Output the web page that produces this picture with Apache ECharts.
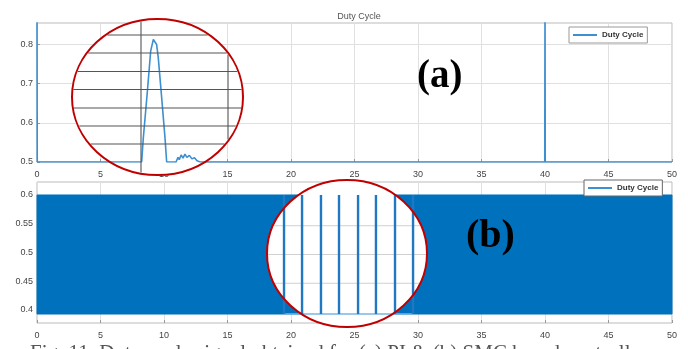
<!DOCTYPE html>
<html>
<head>
<meta charset="utf-8">
<script src="https://cdn.jsdelivr.net/npm/echarts@6/dist/echarts.min.js"></script>
<style>
  html, body { margin: 0; padding: 0; background: #ffffff; }
  #chart { width: 688px; height: 349px; }
</style>
</head>
<body>
<div id="chart"></div>
<script>
// (a) PI duty cycle: time (s) and duty value
const timeA = [0, 0.02, 8.24, 8.37, 8.69, 8.95, 9.16, 9.29, 9.42, 9.55, 9.82, 10.08, 10.21,
  10.95, 11.1, 11.2, 11.35, 11.5, 11.65, 11.8, 12.0, 12.2, 12.4, 12.6, 12.85,
  39.98, 40.0, 40.02, 50]
const dutyA = [0.9, 0.5, 0.5, 0.561, 0.68, 0.783, 0.813, 0.817, 0.8, 0.766, 0.663, 0.561, 0.5,
  0.5, 0.512, 0.506, 0.518, 0.51, 0.52, 0.512, 0.517, 0.508, 0.511, 0.503, 0.5,
  0.5, 0.9, 0.5, 0.5]

// (b) fast switching duty cycle: envelope of the band
const timeB = [0, 10, 20, 30, 40, 50]
const lowB = [0.393, 0.393, 0.393, 0.393, 0.393, 0.393]
const highB = [0.6, 0.6, 0.6, 0.6, 0.6, 0.6]

// (b) zoomed pulses shown inside the circle
const pulseT = [19.45, 20.87, 22.36, 23.78, 25.28, 26.69, 28.19, 29.61]
const pulseLow = 0.393
const pulseHigh = 0.6

const yTicksA = [0.5, 0.6, 0.7, 0.8]
const yTicksB = [0.4, 0.45, 0.5, 0.55, 0.6]

const blue = '#0072bd'
const labelStyle = { color: '#444', fontSize: 9, fontFamily: 'Liberation Sans' }

const chart = echarts.init(document.getElementById('chart'))

function xAxisOf(gridIndex) {
  return {
    type: 'value', gridIndex, min: 0, max: 50, interval: 5,
    axisLine: { show: false },
    axisTick: { inside: true, length: 3, lineStyle: { color: '#999' } },
    axisLabel: Object.assign({ margin: 8 }, labelStyle),
    splitLine: { lineStyle: { color: '#e0e0e0' } }
  }
}

function yAxisOf(gridIndex, min, max, ticks) {
  return {
    type: 'value', gridIndex, min, max,
    axisLine: { show: false },
    axisTick: { inside: true, length: 3, customValues: ticks, lineStyle: { color: '#999' } },
    axisLabel: Object.assign({ margin: 4, customValues: ticks, formatter: v => String(+v.toFixed(2)) }, labelStyle),
    splitLine: { lineStyle: { color: '#e0e0e0' } }
  }
}

const pulseData = []
pulseT.forEach(t => {
  pulseData.push([t, pulseLow], [t, pulseHigh], [t, '-'])
})

const legendBase = {
  data: ['Duty Cycle'], icon: 'rect', itemWidth: 24, itemHeight: 2, itemGap: 4, padding: [4, 4],
  borderWidth: 1, backgroundColor: '#fff',
  textStyle: { fontSize: 8, fontWeight: 'bold', color: '#333', fontFamily: 'Liberation Sans' }
}

chart.setOption({
  animation: false,
  backgroundColor: '#ffffff',
  title: {
    text: 'Duty Cycle', left: 354, top: 7, textAlign: 'center',
    textStyle: { color: '#555', fontSize: 9, fontWeight: 'normal', fontFamily: 'Liberation Sans' }
  },
  legend: [
    Object.assign({ left: 569, top: 27, borderColor: '#999' }, legendBase),
    Object.assign({ left: 584, top: 180, borderColor: '#666' }, legendBase)
  ],
  grid: [
    { left: 37, right: 16, top: 23, height: 139, show: true, borderColor: '#bbb', borderWidth: 1 },
    { left: 37, right: 16, top: 182, height: 141, show: true, borderColor: '#bbb', borderWidth: 1 }
  ],
  xAxis: [xAxisOf(0), xAxisOf(1)],
  yAxis: [yAxisOf(0, 0.5, 0.855, yTicksA), yAxisOf(1, 0.3774, 0.6226, yTicksB)],
  series: [
    {
      name: 'Duty Cycle', type: 'line', xAxisIndex: 0, yAxisIndex: 0, z: 2,
      symbol: 'none', color: '#3d8fd0', lineStyle: { width: 1.6, color: '#3d8fd0' },
      data: timeA.map((t, i) => [t, dutyA[i]])
    },
    {
      name: 'Duty Cycle', type: 'custom', xAxisIndex: 1, yAxisIndex: 1, z: 2, color: blue,
      data: timeB.map((t, i) => [t, lowB[i], highB[i]]),
      renderItem(params, api) {
        const i = params.dataIndex
        if (i === 0) return null
        const t0 = timeB[i - 1]
        const a = api.coord([t0, lowB[i - 1]])
        const b = api.coord([t0, highB[i - 1]])
        const c = api.coord([api.value(0), api.value(2)])
        const d = api.coord([api.value(0), api.value(1)])
        return {
          type: 'polygon',
          shape: { points: [a, b, c, d] },
          style: { fill: blue, stroke: blue, lineWidth: 1 }
        }
      }
    },
    {
      name: 'pulseFloor', type: 'line', xAxisIndex: 1, yAxisIndex: 1, z: 4,
      symbol: 'none', lineStyle: { width: 1.5, color: '#7ab4e2' },
      data: [[pulseT[0], pulseLow], [pulseT[pulseT.length - 1], pulseLow]]
    },
    {
      name: 'pulses', type: 'line', xAxisIndex: 1, yAxisIndex: 1, z: 4,
      symbol: 'none', connectNulls: false, lineStyle: { width: 2.4, color: '#1f78c1' },
      data: pulseData
    }
  ]
})

// zoom circles drawn as annotations
function chords(cx, cy, rx, ry, ys, xs, style, z) {
  const out = []
  ys.forEach(y => {
    const d = (y - cy) / ry
    if (Math.abs(d) >= 1) return
    const hw = rx * Math.sqrt(1 - d * d)
    out.push({ type: 'line', z, shape: { x1: cx - hw, y1: y, x2: cx + hw, y2: y }, style })
  })
  xs.forEach(x => {
    const d = (x - cx) / rx
    if (Math.abs(d) >= 1) return
    const hh = ry * Math.sqrt(1 - d * d)
    out.push({ type: 'line', z, shape: { x1: x, y1: cy - hh, x2: x, y2: cy + hh }, style })
  })
  return out
}

const circA = { cx: 157.5, cy: 97, rx: 85.5, ry: 78 }
const circB = { cx: 347, cy: 253.5, rx: 80, ry: 73.5 }

const innerYa = [35, 53, 71.5, 89.5, 108, 126, 144]
const innerXa = [141, 228]
const innerYb = [0.55, 0.5, 0.45].map(v => chart.convertToPixel({ yAxisIndex: 1 }, v) + 2)

const graphic = [
  { type: 'ellipse', z: 1, shape: circA, style: { fill: '#fff', stroke: null } },
  ...chords(circA.cx, circA.cy, circA.rx - 1, circA.ry - 1, innerYa, innerXa,
    { stroke: '#555', lineWidth: 1.1 }, 3),
  { type: 'ellipse', z: 6, shape: circA, style: { fill: null, stroke: '#c00000', lineWidth: 2 } },

  { type: 'ellipse', z: 3, shape: circB, style: { fill: '#fff', stroke: null } },
  ...chords(circB.cx, circB.cy, circB.rx - 1, circB.ry - 1, innerYb, [],
    { stroke: '#d0d0d0', lineWidth: 1 }, 3),
  { type: 'ellipse', z: 6, shape: circB, style: { fill: null, stroke: '#c00000', lineWidth: 2 } },

  {
    type: 'text', z: 7, left: 417, top: 57,
    style: { text: '(a)', font: 'bold 39px "Liberation Serif"', fill: '#000' }
  },
  {
    type: 'text', z: 7, left: 466, top: 217,
    style: { text: '(b)', font: 'bold 40px "Liberation Serif"', fill: '#000' }
  },
  {
    type: 'text', z: 7, left: 30, top: 343,
    style: {
      text: 'Fig. 11. Duty cycle signal obtained for (a) PI & (b) SMC based controller',
      font: '21px "Liberation Serif"', fill: '#555'
    }
  }
]

chart.setOption({ graphic })
</script>
</body>
</html>
